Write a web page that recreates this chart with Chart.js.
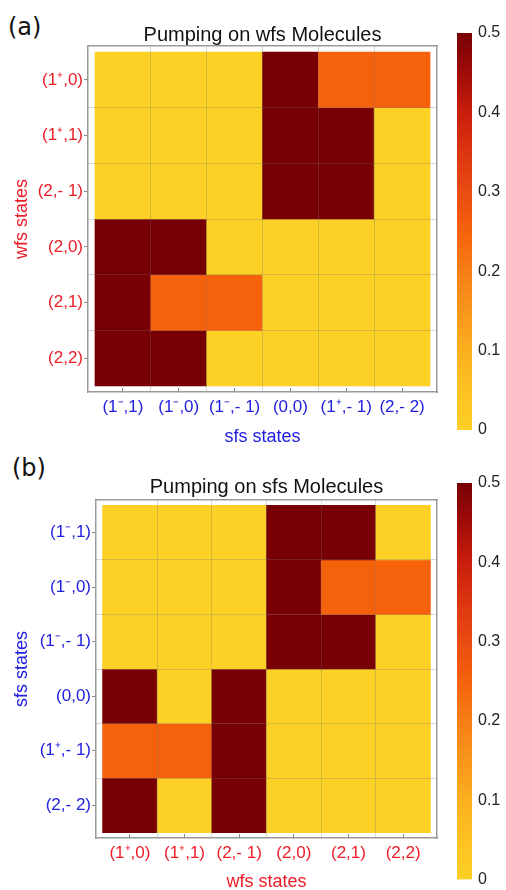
<!DOCTYPE html>
<html>
<head>
<meta charset="utf-8">
<script src="https://cdn.jsdelivr.net/npm/chart.js@4/dist/chart.umd.min.js"></script>
<style>
  html, body { margin: 0; padding: 0; background: #fff; }
  body { position: relative; width: 506px; height: 890px; overflow: hidden; }
  canvas { position: absolute; }
  .tag { position: absolute; font: 24px 'DejaVu Sans', sans-serif; line-height: 1; color: #111; }
</style>
</head>
<body>
<div class="tag" style="left:8px; top:15px;">(a)</div>
<canvas id="heatA" width="506" height="450" style="left:0; top:0;"></canvas>
<canvas id="barA" width="66" height="450" style="left:440px; top:0;"></canvas>
<div class="tag" style="left:12px; top:456px;">(b)</div>
<canvas id="heatB" width="506" height="450" style="left:0; top:445px;"></canvas>
<canvas id="barB" width="66" height="450" style="left:440px; top:445px;"></canvas>
<script>
// State labels
const wfsStates = ['(1\u207A,0)', '(1\u207A,1)', '(2,- 1)', '(2,0)', '(2,1)', '(2,2)'];
const sfsStates = ['(1\u207B,1)', '(1\u207B,0)', '(1\u207B,- 1)', '(0,0)', '(1\u207A,- 1)', '(2,- 2)'];

// Branching into sfs states when wfs molecules are pumped (rows: wfs, top to bottom)
const wfsPumping = [
  [0,   0,    0,    0.5, 0.25, 0.25],
  [0,   0,    0,    0.5, 0.5,  0],
  [0,   0,    0,    0.5, 0.5,  0],
  [0.5, 0.5,  0,    0,   0,    0],
  [0.5, 0.25, 0.25, 0,   0,    0],
  [0.5, 0.5,  0,    0,   0,    0]
];

// Branching into wfs states when sfs molecules are pumped (rows: sfs, top to bottom)
const sfsPumping = [
  [0,    0,    0,   0.5, 0.5,  0],
  [0,    0,    0,   0.5, 0.25, 0.25],
  [0,    0,    0,   0.5, 0.5,  0],
  [0.5,  0,    0.5, 0,   0,    0],
  [0.25, 0.25, 0.5, 0,   0,    0],
  [0.5,  0,    0.5, 0,   0,    0]
];

const colorbarTicks = [0, 0.1, 0.2, 0.3, 0.4, 0.5];

// Colour scale: yellow -> orange -> dark red
const colorStops = [
  [0.00, [252, 208, 36]],
  [0.05, [252, 194, 34]],
  [0.10, [251, 175, 31]],
  [0.15, [249, 150, 27]],
  [0.20, [247, 126, 22]],
  [0.25, [245, 98, 11]],
  [0.30, [233, 76, 18]],
  [0.35, [220, 53, 16]],
  [0.40, [200, 30, 12]],
  [0.45, [160, 12, 8]],
  [0.50, [120, 0, 5]]
];

function shade(v) {
  if (v <= colorStops[0][0]) return rgb(colorStops[0][1]);
  for (let k = 1; k < colorStops.length; k++) {
    const [v1, c1] = colorStops[k];
    if (v <= v1) {
      const [v0, c0] = colorStops[k - 1];
      const t = (v - v0) / (v1 - v0);
      return rgb(c0.map((c, i) => c + (c1[i] - c) * t));
    }
  }
  return rgb(colorStops[colorStops.length - 1][1]);
}
function rgb(c) { return 'rgb(' + c.map(Math.round).join(',') + ')'; }

const FONT = "'Liberation Sans', Arial, sans-serif";
const RED = '#ee1c25';
const BLUE = '#2020e0';
const FRAME = '#9a9a9a';
const CELL_GRID = 'rgba(120,120,120,0.28)';

function heatmap(id, g) {
  const nRows = g.rows.length, nCols = g.cols.length;
  const datasets = g.values.map((row, i) => ({
    data: row.map((v, j) => ({ x: j, y: [i - 0.5, i + 0.5], v: v })),
    backgroundColor: ctx => (ctx.raw ? shade(ctx.raw.v) : 'transparent'),
    borderWidth: 0,
    grouped: false,
    barPercentage: 1,
    categoryPercentage: 1
  }));
  const xMin = -0.5 - g.padX, xMax = nCols - 0.5 + g.padX;
  const yMin = -0.5 - g.padY, yMax = nRows - 0.5 + g.padY;
  const centres = n => Array.from({ length: n }, (_, k) => ({ value: k }));
  const edges = n => Array.from({ length: n - 1 }, (_, k) => ({ value: k + 0.5 }));

  new Chart(document.getElementById(id), {
    type: 'bar',
    data: { datasets },
    options: {
      responsive: false,
      animation: false,
      events: [],
      layout: { padding: { left: 0, top: 0, right: 69, bottom: 0 } },
      plugins: { legend: { display: false }, tooltip: { enabled: false } },
      scales: {
        x: {
          type: 'linear', position: 'bottom', min: xMin, max: xMax,
          offset: false,
          afterBuildTicks: s => { s.ticks = centres(nCols); },
          afterFit: s => { s.height = g.bottomH; },
          ticks: {
            callback: v => g.cols[v], color: g.colColor, autoSkip: false,
            maxRotation: 0, minRotation: 0, padding: g.xLabelPad,
            font: { family: FONT, size: 17 }
          },
          grid: { offset: false, drawOnChartArea: false, tickLength: -4, color: '#888' },
          border: { color: FRAME, width: 1.5 },
          title: {
            display: true, text: g.colTitle, color: g.colColor,
            font: { family: FONT, size: 18 }, padding: { top: 0, bottom: 2 }
          }
        },
        y: {
          type: 'linear', position: 'left', reverse: true, min: yMin, max: yMax,
          offset: false, beginAtZero: false,
          afterBuildTicks: s => { s.ticks = centres(nRows); },
          afterFit: s => { s.width = g.leftW; },
          ticks: {
            callback: v => g.rows[v], color: g.rowColor, autoSkip: false, padding: 1,
            font: { family: FONT, size: 17 }
          },
          grid: { drawOnChartArea: false, tickLength: 4, color: '#888' },
          border: { color: FRAME, width: 1.5 },
          title: {
            display: true, text: g.rowTitle, color: g.rowColor,
            font: { family: FONT, size: 18 }, padding: { top: 11, bottom: 0 }
          }
        },
        x2: {
          type: 'linear', position: 'top', min: xMin, max: xMax,
          offset: false,
          afterBuildTicks: s => { s.ticks = edges(nCols); },
          afterFit: s => { s.height = g.topH; },
          ticks: { display: false },
          grid: { offset: false, drawTicks: false, color: CELL_GRID, z: 1 },
          border: { color: FRAME, width: 1.5, z: 1 },
          title: {
            display: true, text: g.title, color: '#111',
            font: { family: FONT, size: 20 }, padding: { top: g.titlePad, bottom: 0 }
          }
        },
        y2: {
          type: 'linear', position: 'right', reverse: true, min: yMin, max: yMax,
          offset: false, beginAtZero: false,
          afterBuildTicks: s => { s.ticks = edges(nRows); },
          afterFit: s => { s.width = 0; },
          ticks: { display: false },
          grid: { drawTicks: false, color: CELL_GRID, z: 1 },
          border: { color: FRAME, width: 1.5, z: 1 }
        }
      }
    }
  });
}

function colorbar(id, top, bottom) {
  const lo = colorbarTicks[0], hi = colorbarTicks[colorbarTicks.length - 1];
  new Chart(document.getElementById(id), {
    type: 'bar',
    data: {
      labels: [''],
      datasets: [{
        data: [[lo, hi]],
        borderWidth: 0,
        barPercentage: 1,
        categoryPercentage: 1,
        backgroundColor: ctx => {
          const chart = ctx.chart, y = chart.scales.y;
          if (!chart.chartArea || !y) return shade(lo);
          const gr = chart.ctx.createLinearGradient(0, y.getPixelForValue(lo), 0, y.getPixelForValue(hi));
          colorStops.forEach(([v, c]) => gr.addColorStop((v - lo) / (hi - lo), rgb(c)));
          return gr;
        }
      }]
    },
    options: {
      responsive: false,
      animation: false,
      events: [],
      layout: { padding: { left: 17, right: 0, top: top, bottom: bottom } },
      plugins: { legend: { display: false }, tooltip: { enabled: false } },
      scales: {
        x: { display: false },
        y: {
          position: 'right', min: lo, max: hi,
          afterBuildTicks: s => { s.ticks = colorbarTicks.map(value => ({ value })); },
          afterFit: s => { s.width = 34; },
          ticks: { callback: v => String(v), color: '#222', padding: 6, font: { family: FONT, size: 16 } },
          grid: { display: false, drawTicks: false },
          border: { display: false }
        }
      }
    }
  });
}

heatmap('heatA', {
  rows: wfsStates, cols: sfsStates, values: wfsPumping,
  rowColor: RED, colColor: BLUE,
  rowTitle: 'wfs states', colTitle: 'sfs states',
  title: 'Pumping on wfs Molecules',
  leftW: 88, topH: 46, bottomH: 58, titlePad: 23, xLabelPad: 9.5,
  padX: 0.125, padY: 0.108
});
colorbar('barA', 33, 20);

heatmap('heatB', {
  rows: sfsStates, cols: wfsStates, values: sfsPumping,
  rowColor: BLUE, colColor: RED,
  rowTitle: 'sfs states', colTitle: 'wfs states',
  title: 'Pumping on sfs Molecules',
  leftW: 96, topH: 55, bottomH: 57, titlePad: 30, xLabelPad: 9,
  padX: 0.12, padY: 0.1
});
colorbar('barB', 38, 15);
</script>
</body>
</html>
